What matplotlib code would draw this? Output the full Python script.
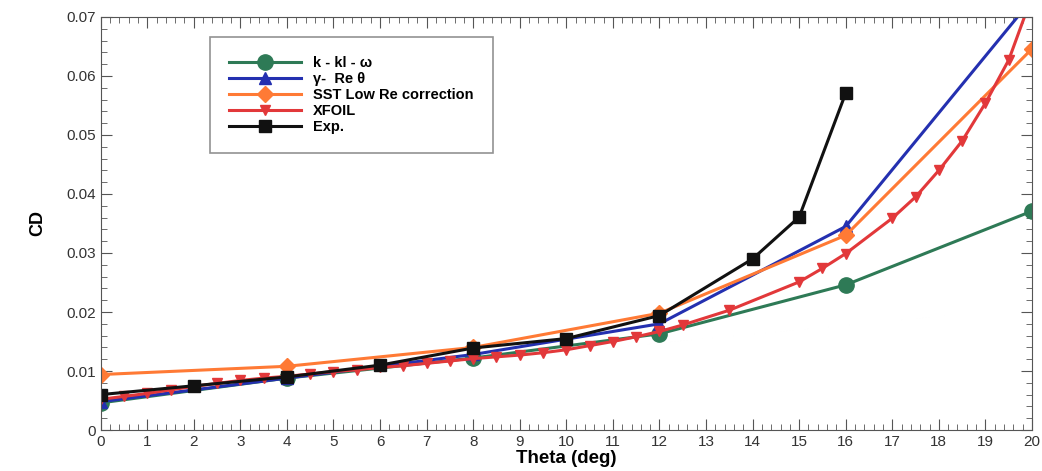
import numpy as np
import matplotlib.pyplot as plt
from matplotlib.ticker import MultipleLocator

plt.rcParams['font.family'] = ['Liberation Sans', 'DejaVu Sans']

# k - kl - omega
theta_kkl = [0, 4, 8, 12, 16, 20]
cd_kkl = [0.0046, 0.0088, 0.0122, 0.0163, 0.0246, 0.0371]

# gamma - Re theta
theta_gam = [0, 4, 8, 12, 16, 20]
cd_gam = [0.0048, 0.0088, 0.0128, 0.0180, 0.0345, 0.0730]

# SST low Re correction
theta_sst = [0, 4, 8, 12, 16, 20]
cd_sst = [0.0094, 0.0108, 0.0140, 0.0198, 0.0330, 0.0646]

# XFOIL
theta_xf = [0, 0.5, 1, 1.5, 2, 2.5, 3, 3.5, 4, 4.5, 5, 5.5, 6, 6.5, 7, 7.5, 8,
            8.5, 9, 9.5, 10, 10.5, 11, 11.5, 12, 12.5, 13.5, 15, 15.5, 16,
            17, 17.5, 18, 18.5, 19, 19.5, 20]
cd_xf = [0.0052, 0.0057, 0.0062, 0.0068, 0.0074, 0.0079, 0.0084, 0.0088,
         0.0091, 0.0095, 0.0099, 0.0102, 0.0106, 0.0109, 0.0113, 0.0117,
         0.0121, 0.0124, 0.0127, 0.0131, 0.0136, 0.0143, 0.0150, 0.0158,
         0.0167, 0.0178, 0.0203, 0.0251, 0.0274, 0.0299, 0.0359, 0.0395,
         0.0440, 0.0490, 0.0554, 0.0627, 0.0735]

# Experiment
theta_exp = [0, 2, 4, 6, 8, 10, 12, 14, 15, 16]
cd_exp = [0.0060, 0.0075, 0.0090, 0.0110, 0.0139, 0.0155, 0.0194, 0.0290, 0.0361, 0.0571]

fig = plt.figure(figsize=(10.42, 4.71), dpi=100)
ax = fig.add_axes([0.0966, 0.087, 0.8938, 0.877])

ax.plot(theta_kkl, cd_kkl, color='#2e7a56', lw=2.2, marker='o', ms=11, label='k - kl - ω')
ax.plot(theta_gam, cd_gam, color='#2430b0', lw=2.2, marker='^', ms=8, label='γ-  Re θ')
ax.plot(theta_sst, cd_sst, color='#ff7a35', lw=2.2, marker='D', ms=8, label='SST Low Re correction')
ax.plot(theta_xf, cd_xf, color='#e2383a', lw=2.2, marker='v', ms=7, label='XFOIL')
ax.plot(theta_exp, cd_exp, color='#111111', lw=2.2, marker='s', ms=9, label='Exp.')

ax.set_xlim(0, 20)
ax.set_ylim(0, 0.07)
ax.xaxis.set_major_locator(MultipleLocator(1))
ax.xaxis.set_minor_locator(MultipleLocator(0.2))
ax.yaxis.set_major_locator(MultipleLocator(0.01))
ax.yaxis.set_minor_locator(MultipleLocator(0.002))
ax.yaxis.set_major_formatter(plt.FuncFormatter(lambda v, p: '0' if v == 0 else f'{v:.2f}'))
ax.tick_params(which='both', direction='in', top=True, right=True,
               labelsize=11, labelcolor='#333333', color='#555555')
ax.tick_params(which='major', length=8)
ax.tick_params(which='minor', length=4)
for s in ax.spines.values():
    s.set_color('#555555')

ax.set_xlabel('Theta (deg)', fontsize=13.5, fontweight='bold', labelpad=1)
ax.set_ylabel('CD', fontsize=13, fontweight='bold', labelpad=14)

leg = ax.legend(loc='upper left', bbox_to_anchor=(0.117, 0.952), borderaxespad=0,
                prop={'weight': 'bold', 'size': 10.5}, handlelength=5,
                labelspacing=0.15, fancybox=False, edgecolor='#777777',
                borderpad=1.3, handletextpad=0.8)
leg.get_frame().set_linewidth(1.2)

fig.savefig('out.png', dpi=100)
